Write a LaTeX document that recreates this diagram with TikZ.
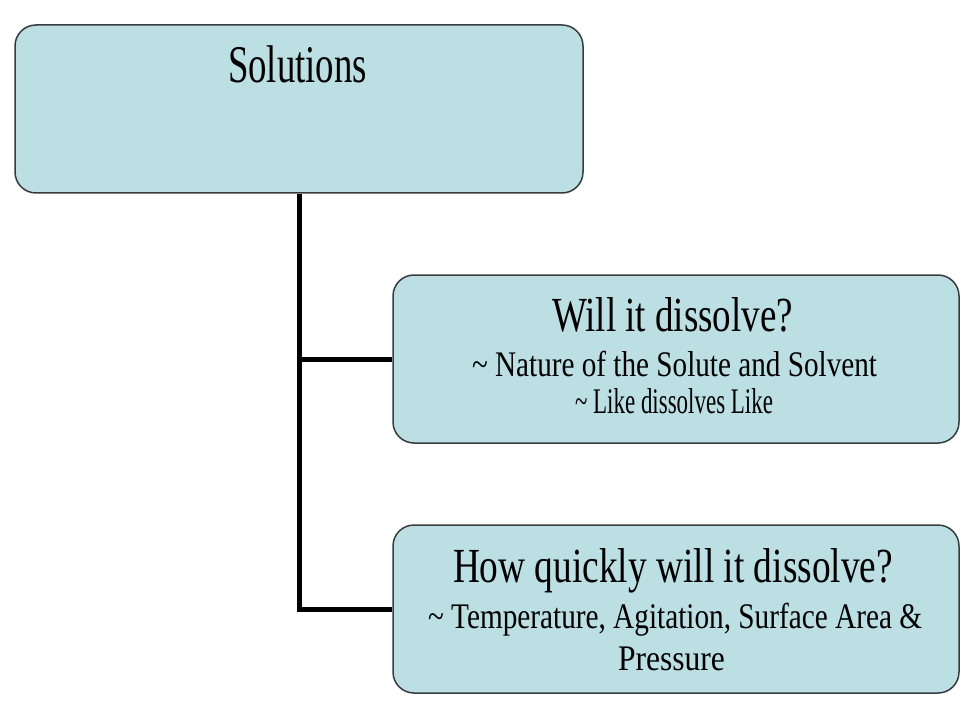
\documentclass[tikz,border=0pt]{standalone}
\usepackage{fontspec}
\setmainfont{Liberation Serif}
\usepackage{graphicx}
\definecolor{boxfill}{RGB}{188,223,228}
\definecolor{boxline}{RGB}{55,60,62}
\newcommand{\fitline}[3]{{\fontsize{#1}{#1}\selectfont\resizebox{#2pt}{\height}{#3}}}
\begin{document}
\begin{tikzpicture}[x=1pt,y=-1pt,
  box/.style={draw=boxline, line width=1.5pt, fill=boxfill, rounded corners=21pt,
    inner sep=0pt, minimum height=168pt},
  txt/.style={anchor=base, inner sep=0pt, text=black},
  conn/.style={line width=5pt, black}]
\useasboundingbox (0,0) rectangle (965,703);
% boxes
\node[box, minimum width=568pt] (top) at (299,109) {};
\node[box, minimum width=566pt] (mid) at (676,359) {};
\node[box, minimum width=566pt] (bot) at (676,609) {};
% connectors
\coordinate (trunk) at (top.south);
\draw[conn] (trunk) |- (mid.west);
\draw[conn] (trunk) |- (bot.west);
% texts
\node[txt] (t1) at (297.5,83) {\fitline{53}{139}{Solutions}};
\node[txt] (m1) at (672.5,331) {\fitline{49}{241}{Will it dissolve?}};
\node[txt] (m2) at (674.5,376) {\fitline{36}{405}{\textasciitilde\ Nature of the Solute and Solvent}};
\node[txt] (m3) at (674,413) {\fitline{36}{198}{\textasciitilde\ Like dissolves Like}};
\node[txt] (b1) at (673,582) {\fitline{49}{440}{How quickly will it dissolve?}};
\node[txt] (b2) at (675,628) {\fitline{36}{494}{\textasciitilde\ Temperature, Agitation, Surface Area \&}};
\node[txt] (b3) at (671.5,670) {\fitline{36}{107}{Pressure}};
\end{tikzpicture}
\end{document}
